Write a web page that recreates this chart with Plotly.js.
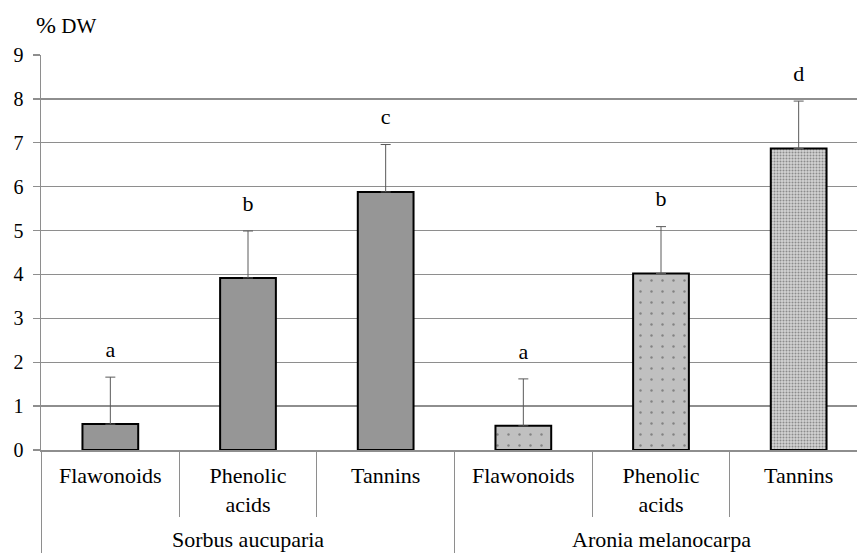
<!DOCTYPE html>
<html>
<head>
<meta charset="utf-8">
<script src="https://cdn.plot.ly/plotly-3.0.1.min.js"></script>
<style>
html,body{margin:0;padding:0;overflow:hidden;background:#fff;}
#chart{width:880px;height:553px;}
#chart svg text{font-family:Tinos,serif !important;}
</style>
</head>
<body>
<div id="chart"></div>
<script>
// ---- data ----
var species = ["Sorbus aucuparia","Sorbus aucuparia","Sorbus aucuparia","Aronia melanocarpa","Aronia melanocarpa","Aronia melanocarpa"];
var components = ["Flawonoids","Phenolic<br>acids","Tannins","Flawonoids","Phenolic<br>acids","Tannins"];
var values = [0.59, 3.92, 5.88, 0.55, 4.02, 6.87];
var errors = [1.07, 1.07, 1.08, 1.07, 1.07, 1.08];
var letters = ["a","b","c","a","b","d"];
var yTicks = [0,1,2,3,4,5,6,7,8,9];
var groups = ["Sorbus aucuparia","Aronia melanocarpa"];

// ---- styles ----
var fillColors = ["#969696","#969696","#969696","#c0c0c0","#c0c0c0","#d2d2d2"];
var patShapes = ["","","",".",".","."];
var patFg = ["#888","#888","#888","#8a8a8a","#8a8a8a","#8c8c8c"];
var patSize = [8,8,8,11,11,3];
var patSolid = [0.1,0.1,0.1,0.04,0.04,0.34];
var FONT = "Tinos";
var gridCol = "#8e8e8e";

// unique category keys built from the data arrays
var keys = species.map(function(s,i){ return s + " | " + components[i]; });
var tops = values.map(function(v,i){ return v + errors[i]; });
var zeros = values.map(function(){ return 0; });

var bars = {
  type: "bar",
  x: keys,
  y: values,
  width: 0.405,
  marker: {
    color: fillColors,
    line: {color: "#000", width: 2},
    pattern: {shape: patShapes, fgcolor: patFg, size: patSize, solidity: patSolid, fillmode: "overlay"}
  },
  error_y: {type: "data", symmetric: false, array: errors, arrayminus: zeros,
            color: "#5a5a5a", thickness: 1, width: 5},
  hoverinfo: "skip",
  showlegend: false
};

var labels = {
  type: "scatter",
  mode: "markers+text",
  x: keys,
  y: tops,
  text: letters,
  textposition: "top center",
  textfont: {family: FONT, size: 22, color: "#000"},
  marker: {size: 22, opacity: 0},
  hoverinfo: "skip",
  showlegend: false,
  cliponaxis: false
};

// group label + divider positions (category index units)
var shapes = [];
var groupAnn = [];
groups.forEach(function(g){
  var idx = [];
  species.forEach(function(s,i){ if(s === g) idx.push(i); });
  var first = idx[0], last = idx[idx.length-1];
  shapes.push({type:"line", xref:"x", yref:"paper", x0:first-0.5, x1:first-0.5, y0:0, y1:-0.3,
               line:{color:gridCol, width:1}});
  shapes.push({type:"line", xref:"x", yref:"paper", x0:last+0.5, x1:last+0.5, y0:0, y1:-0.3,
               line:{color:gridCol, width:1}});
  groupAnn.push({xref:"x", yref:"paper", x:(first+last)/2, y:-0.226,
                 xanchor:"center", yanchor:"middle", showarrow:false,
                 text:g, font:{family:FONT, size:22, color:"#000"}});
});

var layout = {
  width: 880, height: 553,
  margin: {l: 41, r: 12, t: 55, b: 103},
  paper_bgcolor: "#fff",
  plot_bgcolor: "#fff",
  font: {family: FONT, color: "#000"},
  showlegend: false,
  xaxis: {
    type: "category",
    categoryorder: "array", categoryarray: keys,
    tickvals: keys, ticktext: components,
    showgrid: false,
    showline: true, linecolor: gridCol, linewidth: 1.5,
    ticks: "outside", tickson: "boundaries", ticklen: 65, tickcolor: gridCol, tickwidth: 1,
    ticklabelstandoff: 5,
    tickfont: {family: FONT, size: 22, color: "#000"},
    tickangle: 0,
    zeroline: false,
    fixedrange: true
  },
  yaxis: {
    range: [0, 9],
    tickvals: yTicks,
    ticktext: yTicks.map(String),
    showgrid: true, gridcolor: gridCol, gridwidth: 1.3,
    showline: true, linecolor: gridCol, linewidth: 1.5,
    ticks: "outside", ticklen: 7, tickcolor: gridCol, tickwidth: 1.3,
    ticklabelstandoff: 5,
    tickfont: {family: FONT, size: 20, color: "#000"},
    zeroline: false,
    fixedrange: true
  },
  shapes: shapes,
  annotations: groupAnn.concat([{
    xref: "paper", yref: "paper",
    x: -0.008, y: 1.0, yshift: 30,
    xanchor: "left", yanchor: "middle",
    showarrow: false,
    text: "<span style=\"font-size:24px\">%</span> DW",
    font: {family: FONT, size: 21, color: "#000"}
  }])
};

Plotly.newPlot("chart", [bars, labels], layout, {staticPlot: true, displayModeBar: false});
</script>
</body>
</html>
